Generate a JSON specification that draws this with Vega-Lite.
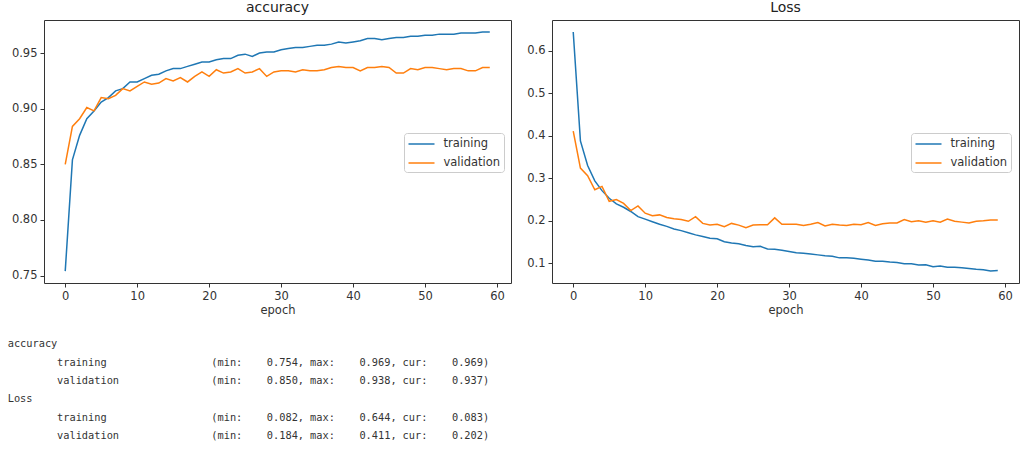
{
  "$schema": "https://vega.github.io/schema/vega-lite/v6.json",
  "padding": {"left": 5, "top": 0, "right": 5, "bottom": 5},
  "background": "white",
  "datasets": {
    "accuracy": [
      {"epoch": 0, "training": 0.754, "validation": 0.850},
      {"epoch": 1, "training": 0.854, "validation": 0.884},
      {"epoch": 2, "training": 0.876, "validation": 0.891},
      {"epoch": 3, "training": 0.891, "validation": 0.901},
      {"epoch": 4, "training": 0.898, "validation": 0.898},
      {"epoch": 5, "training": 0.906, "validation": 0.910},
      {"epoch": 6, "training": 0.910, "validation": 0.909},
      {"epoch": 7, "training": 0.916, "validation": 0.912},
      {"epoch": 8, "training": 0.918, "validation": 0.918},
      {"epoch": 9, "training": 0.924, "validation": 0.916},
      {"epoch": 10, "training": 0.924, "validation": 0.920},
      {"epoch": 11, "training": 0.927, "validation": 0.924},
      {"epoch": 12, "training": 0.930, "validation": 0.922},
      {"epoch": 13, "training": 0.931, "validation": 0.923},
      {"epoch": 14, "training": 0.934, "validation": 0.927},
      {"epoch": 15, "training": 0.936, "validation": 0.925},
      {"epoch": 16, "training": 0.936, "validation": 0.928},
      {"epoch": 17, "training": 0.938, "validation": 0.924},
      {"epoch": 18, "training": 0.940, "validation": 0.929},
      {"epoch": 19, "training": 0.942, "validation": 0.933},
      {"epoch": 20, "training": 0.942, "validation": 0.929},
      {"epoch": 21, "training": 0.944, "validation": 0.935},
      {"epoch": 22, "training": 0.945, "validation": 0.932},
      {"epoch": 23, "training": 0.945, "validation": 0.933},
      {"epoch": 24, "training": 0.948, "validation": 0.936},
      {"epoch": 25, "training": 0.949, "validation": 0.932},
      {"epoch": 26, "training": 0.947, "validation": 0.933},
      {"epoch": 27, "training": 0.950, "validation": 0.936},
      {"epoch": 28, "training": 0.951, "validation": 0.929},
      {"epoch": 29, "training": 0.951, "validation": 0.933},
      {"epoch": 30, "training": 0.953, "validation": 0.934},
      {"epoch": 31, "training": 0.954, "validation": 0.934},
      {"epoch": 32, "training": 0.955, "validation": 0.933},
      {"epoch": 33, "training": 0.955, "validation": 0.935},
      {"epoch": 34, "training": 0.956, "validation": 0.934},
      {"epoch": 35, "training": 0.957, "validation": 0.934},
      {"epoch": 36, "training": 0.957, "validation": 0.935},
      {"epoch": 37, "training": 0.958, "validation": 0.937},
      {"epoch": 38, "training": 0.960, "validation": 0.938},
      {"epoch": 39, "training": 0.959, "validation": 0.937},
      {"epoch": 40, "training": 0.960, "validation": 0.937},
      {"epoch": 41, "training": 0.961, "validation": 0.934},
      {"epoch": 42, "training": 0.963, "validation": 0.937},
      {"epoch": 43, "training": 0.963, "validation": 0.937},
      {"epoch": 44, "training": 0.962, "validation": 0.938},
      {"epoch": 45, "training": 0.963, "validation": 0.937},
      {"epoch": 46, "training": 0.964, "validation": 0.932},
      {"epoch": 47, "training": 0.964, "validation": 0.932},
      {"epoch": 48, "training": 0.965, "validation": 0.936},
      {"epoch": 49, "training": 0.965, "validation": 0.935},
      {"epoch": 50, "training": 0.966, "validation": 0.937},
      {"epoch": 51, "training": 0.966, "validation": 0.937},
      {"epoch": 52, "training": 0.967, "validation": 0.936},
      {"epoch": 53, "training": 0.967, "validation": 0.935},
      {"epoch": 54, "training": 0.967, "validation": 0.936},
      {"epoch": 55, "training": 0.968, "validation": 0.936},
      {"epoch": 56, "training": 0.968, "validation": 0.934},
      {"epoch": 57, "training": 0.968, "validation": 0.934},
      {"epoch": 58, "training": 0.969, "validation": 0.937},
      {"epoch": 59, "training": 0.969, "validation": 0.937}
    ],
    "loss": [
      {"epoch": 0, "training": 0.644, "validation": 0.411},
      {"epoch": 1, "training": 0.388, "validation": 0.324},
      {"epoch": 2, "training": 0.330, "validation": 0.306},
      {"epoch": 3, "training": 0.294, "validation": 0.273},
      {"epoch": 4, "training": 0.271, "validation": 0.281},
      {"epoch": 5, "training": 0.253, "validation": 0.246},
      {"epoch": 6, "training": 0.240, "validation": 0.250},
      {"epoch": 7, "training": 0.232, "validation": 0.241},
      {"epoch": 8, "training": 0.222, "validation": 0.224},
      {"epoch": 9, "training": 0.210, "validation": 0.235},
      {"epoch": 10, "training": 0.204, "validation": 0.218},
      {"epoch": 11, "training": 0.198, "validation": 0.212},
      {"epoch": 12, "training": 0.192, "validation": 0.214},
      {"epoch": 13, "training": 0.187, "validation": 0.208},
      {"epoch": 14, "training": 0.181, "validation": 0.205},
      {"epoch": 15, "training": 0.177, "validation": 0.203},
      {"epoch": 16, "training": 0.172, "validation": 0.199},
      {"epoch": 17, "training": 0.167, "validation": 0.210},
      {"epoch": 18, "training": 0.163, "validation": 0.194},
      {"epoch": 19, "training": 0.159, "validation": 0.190},
      {"epoch": 20, "training": 0.158, "validation": 0.192},
      {"epoch": 21, "training": 0.151, "validation": 0.186},
      {"epoch": 22, "training": 0.148, "validation": 0.194},
      {"epoch": 23, "training": 0.146, "validation": 0.190},
      {"epoch": 24, "training": 0.142, "validation": 0.184},
      {"epoch": 25, "training": 0.139, "validation": 0.190},
      {"epoch": 26, "training": 0.140, "validation": 0.191},
      {"epoch": 27, "training": 0.134, "validation": 0.191},
      {"epoch": 28, "training": 0.133, "validation": 0.207},
      {"epoch": 29, "training": 0.131, "validation": 0.192},
      {"epoch": 30, "training": 0.128, "validation": 0.192},
      {"epoch": 31, "training": 0.125, "validation": 0.192},
      {"epoch": 32, "training": 0.124, "validation": 0.189},
      {"epoch": 33, "training": 0.122, "validation": 0.192},
      {"epoch": 34, "training": 0.120, "validation": 0.196},
      {"epoch": 35, "training": 0.118, "validation": 0.188},
      {"epoch": 36, "training": 0.117, "validation": 0.192},
      {"epoch": 37, "training": 0.113, "validation": 0.190},
      {"epoch": 38, "training": 0.113, "validation": 0.189},
      {"epoch": 39, "training": 0.112, "validation": 0.192},
      {"epoch": 40, "training": 0.110, "validation": 0.191},
      {"epoch": 41, "training": 0.108, "validation": 0.196},
      {"epoch": 42, "training": 0.105, "validation": 0.189},
      {"epoch": 43, "training": 0.105, "validation": 0.193},
      {"epoch": 44, "training": 0.103, "validation": 0.195},
      {"epoch": 45, "training": 0.102, "validation": 0.195},
      {"epoch": 46, "training": 0.099, "validation": 0.203},
      {"epoch": 47, "training": 0.099, "validation": 0.198},
      {"epoch": 48, "training": 0.096, "validation": 0.200},
      {"epoch": 49, "training": 0.097, "validation": 0.197},
      {"epoch": 50, "training": 0.092, "validation": 0.200},
      {"epoch": 51, "training": 0.094, "validation": 0.197},
      {"epoch": 52, "training": 0.091, "validation": 0.204},
      {"epoch": 53, "training": 0.091, "validation": 0.199},
      {"epoch": 54, "training": 0.090, "validation": 0.197},
      {"epoch": 55, "training": 0.088, "validation": 0.195},
      {"epoch": 56, "training": 0.086, "validation": 0.199},
      {"epoch": 57, "training": 0.085, "validation": 0.200},
      {"epoch": 58, "training": 0.082, "validation": 0.202},
      {"epoch": 59, "training": 0.083, "validation": 0.202}
    ],
    "summary": [
      {"line": 0, "col": 0, "text": "accuracy"},
      {"line": 1, "col": 8, "text": "training"},
      {"line": 1, "col": 33, "text": "(min:"},
      {"line": 1, "col": 42, "text": "0.754,"},
      {"line": 1, "col": 49, "text": "max:"},
      {"line": 1, "col": 57, "text": "0.969,"},
      {"line": 1, "col": 64, "text": "cur:"},
      {"line": 1, "col": 72, "text": "0.969)"},
      {"line": 2, "col": 8, "text": "validation"},
      {"line": 2, "col": 33, "text": "(min:"},
      {"line": 2, "col": 42, "text": "0.850,"},
      {"line": 2, "col": 49, "text": "max:"},
      {"line": 2, "col": 57, "text": "0.938,"},
      {"line": 2, "col": 64, "text": "cur:"},
      {"line": 2, "col": 72, "text": "0.937)"},
      {"line": 3, "col": 0, "text": "Loss"},
      {"line": 4, "col": 8, "text": "training"},
      {"line": 4, "col": 33, "text": "(min:"},
      {"line": 4, "col": 42, "text": "0.082,"},
      {"line": 4, "col": 49, "text": "max:"},
      {"line": 4, "col": 57, "text": "0.644,"},
      {"line": 4, "col": 64, "text": "cur:"},
      {"line": 4, "col": 72, "text": "0.083)"},
      {"line": 5, "col": 8, "text": "validation"},
      {"line": 5, "col": 33, "text": "(min:"},
      {"line": 5, "col": 42, "text": "0.184,"},
      {"line": 5, "col": 49, "text": "max:"},
      {"line": 5, "col": 57, "text": "0.411,"},
      {"line": 5, "col": 64, "text": "cur:"},
      {"line": 5, "col": 72, "text": "0.202)"}
    ]
  },
  "vconcat": [
    {
      "hconcat": [
        {
          "title": "accuracy",
          "width": 467,
          "height": 263,
          "data": {"name": "accuracy"},
          "transform": [{"fold": ["training", "validation"], "as": ["series", "value"]}],
          "mark": {"type": "line", "strokeWidth": 1.5, "clip": true},
          "encoding": {
            "x": {
              "field": "epoch", "type": "quantitative",
              "scale": {"domain": [-2.95, 61.95], "nice": false, "zero": false},
              "axis": {"values": [0, 10, 20, 30, 40, 50, 60], "title": "epoch"}
            },
            "y": {
              "field": "value", "type": "quantitative",
              "scale": {"domain": [0.7433, 0.9797], "nice": false, "zero": false},
              "axis": {"values": [0.75, 0.8, 0.85, 0.9, 0.95], "format": ".2f", "title": null}
            },
            "color": {
              "field": "series", "type": "nominal",
              "scale": {"domain": ["training", "validation"], "range": ["#1f77b4", "#ff7f0e"]},
              "legend": {"orient": "none", "legendX": 360, "legendY": 113}
            }
          }
        },
        {
          "title": "Loss",
          "width": 467,
          "height": 263,
          "data": {"name": "loss"},
          "transform": [{"fold": ["training", "validation"], "as": ["series", "value"]}],
          "mark": {"type": "line", "strokeWidth": 1.5, "clip": true},
          "encoding": {
            "x": {
              "field": "epoch", "type": "quantitative",
              "scale": {"domain": [-2.95, 61.95], "nice": false, "zero": false},
              "axis": {"values": [0, 10, 20, 30, 40, 50, 60], "title": "epoch"}
            },
            "y": {
              "field": "value", "type": "quantitative",
              "scale": {"domain": [0.0539, 0.6721], "nice": false, "zero": false},
              "axis": {"values": [0.1, 0.2, 0.3, 0.4, 0.5, 0.6], "format": ".1f", "title": null}
            },
            "color": {
              "field": "series", "type": "nominal",
              "scale": {"domain": ["training", "validation"], "range": ["#1f77b4", "#ff7f0e"]},
              "legend": {"orient": "none", "legendX": 359, "legendY": 113}
            }
          }
        }
      ],
      "spacing": 1,
      "resolve": {"scale": {"color": "independent"}, "legend": {"color": "independent"}}
    },
    {
      "width": 500,
      "height": 110,
      "view": {"stroke": null},
      "data": {"name": "summary"},
      "mark": {"type": "text", "align": "left", "baseline": "middle", "font": "DejaVu Sans Mono", "fontSize": 10.3, "color": "#333333"},
      "encoding": {
        "x": {"field": "col", "type": "quantitative", "scale": {"domain": [0, 100], "range": [-36.3, 580.7]}, "axis": null},
        "y": {"field": "line", "type": "quantitative", "scale": {"domain": [-0.5, 5.5], "range": [0, 110]}, "axis": null},
        "text": {"field": "text", "type": "nominal"}
      }
    }
  ],
  "spacing": 18,
  "config": {
    "font": "DejaVu Sans",
    "view": {"stroke": "#333333", "strokeWidth": 1},
    "title": {"fontSize": 14, "fontWeight": "normal", "color": "#222222", "offset": 5, "baseline": "alphabetic", "font": "DejaVu Sans"},
    "axis": {
      "grid": false,
      "domain": false,
      "tickColor": "#333333",
      "tickSize": 4,
      "labelPadding": 3,
      "labelFontSize": 11.5,
      "labelColor": "#333333",
      "labelFont": "DejaVu Sans",
      "titleFont": "DejaVu Sans",
      "titleFontSize": 11.5,
      "titleFontWeight": "normal",
      "titleColor": "#333333",
      "titlePadding": 3
    },
    "axisY": {"minExtent": 38, "maxExtent": 38},
    "legend": {
      "title": null,
      "symbolType": "M-1,0H3",
      "symbolSize": 169,
      "symbolStrokeWidth": 1.5,
      "labelFontSize": 11.5,
      "labelFont": "DejaVu Sans",
      "labelColor": "#333333",
      "labelOffset": 21,
      "rowPadding": 6,
      "padding": 3.5,
      "strokeColor": "#cccccc",
      "fillColor": "#ffffff",
      "cornerRadius": 3
    }
  }
}
